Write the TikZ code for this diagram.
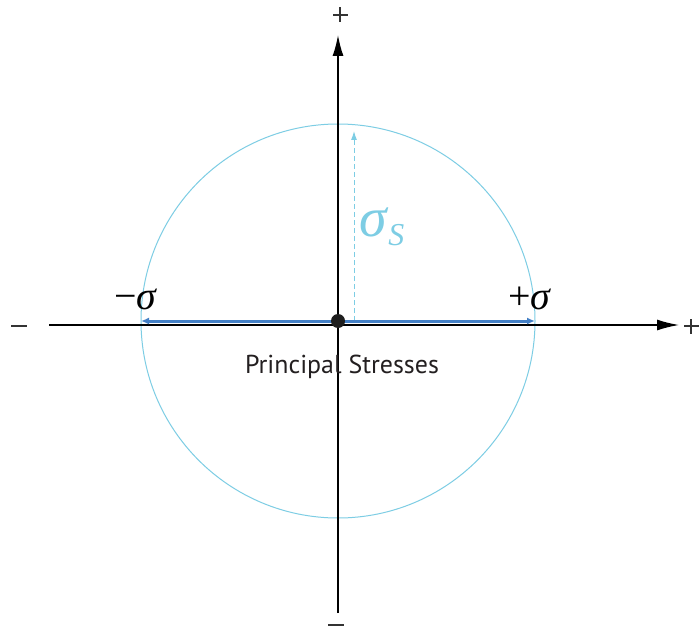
\documentclass[tikz,border=0pt]{standalone}
\usepackage{fontspec}
\setsansfont{PT Sans}
\newfontfamily\grk{Liberation Serif}
\usetikzlibrary{arrows.meta}
\definecolor{circblue}{RGB}{125,205,228}
\definecolor{arrblue}{RGB}{68,128,198}
\definecolor{dotcol}{RGB}{30,30,30}
\begin{document}
\begin{tikzpicture}[x=1bp,y=-1bp,
  axisline/.style={line width=1.5bp,black},
  circline/.style={line width=1bp,circblue},
  principal/.style={line width=3bp,arrblue,{Latex[length=8bp,width=7bp]}-{Latex[length=8bp,width=7bp]}},
  shear/.style={line width=1bp,circblue,dash pattern=on 5bp off 3bp,-{Latex[length=9bp,width=6bp]}},
  siglabel/.style={font=\grk\fontsize{40}{40}\selectfont,inner sep=0pt},
  dot/.style={circle,fill=dotcol,minimum size=14bp,inner sep=0pt},
  plusmark/.style={inner sep=0pt,minimum size=0pt}
]
\useasboundingbox (0,0) rectangle (700,628);
\fill[white] (0,0) rectangle (700,628);
% coordinates
\coordinate (C) at (338,321);
\coordinate (xL) at (49,325);
\coordinate (xR) at (679,325);
\coordinate (yT) at (338,35);
\coordinate (yB) at (338,613);
\coordinate (sL) at (141,321);
\coordinate (sR) at (535,321);
\coordinate (sB) at (354,321);
\coordinate (sT) at (354,131);
% circle
\draw[circline] (C) circle[radius=197];
% axes
\draw[axisline,-{Latex[length=22bp,width=11bp]}] (xL) -- (xR);
\draw[axisline,-{Latex[length=21bp,width=11bp]}] (yB) -- (yT);
% shear stress
\draw[shear] (sB) -- (sT);
% principal stresses
\draw[principal] (sL) -- (sR);
\node[dot] (O) at (C) {};
% sign labels
\node[plusmark] (pT) at (340,15) {\tikz[x=1bp,y=1bp]{\fill[black!80] (-7.5,-1.1) rectangle (7.5,1.1); \fill[black!80] (-1.1,-7.5) rectangle (1.1,7.5);}};
\node[plusmark] (pR) at (691,326) {\tikz[x=1bp,y=1bp]{\fill[black!80] (-7.5,-1.1) rectangle (7.5,1.1); \fill[black!80] (-1.1,-7.5) rectangle (1.1,7.5);}};
\node[plusmark] (mL) at (19,326) {\textcolor{black!80}{\rule{16bp}{2.6bp}}};
\node[plusmark] (mB) at (336,625) {\textcolor{black!80}{\rule{16bp}{2.6bp}}};
\node[siglabel,anchor=base] (lm) at (136,309) {−\textit{σ}};
\node[siglabel,anchor=base] (lp) at (530,309) {+\textit{σ}};
\node[font=\grk\fontsize{56}{56}\selectfont,text=circblue,inner sep=0pt,anchor=base west] (ss) at (359,236) {\textit{σ}\raisebox{-9bp}{\fontsize{32}{32}\selectfont\textit{S}}};
\node[font=\sffamily\fontsize{26}{26}\selectfont,text={rgb,255:red,35;green,31;blue,32},inner sep=0pt,anchor=base] (ps) at (342,373) {Principal Stresses};
\end{tikzpicture}
\end{document}
